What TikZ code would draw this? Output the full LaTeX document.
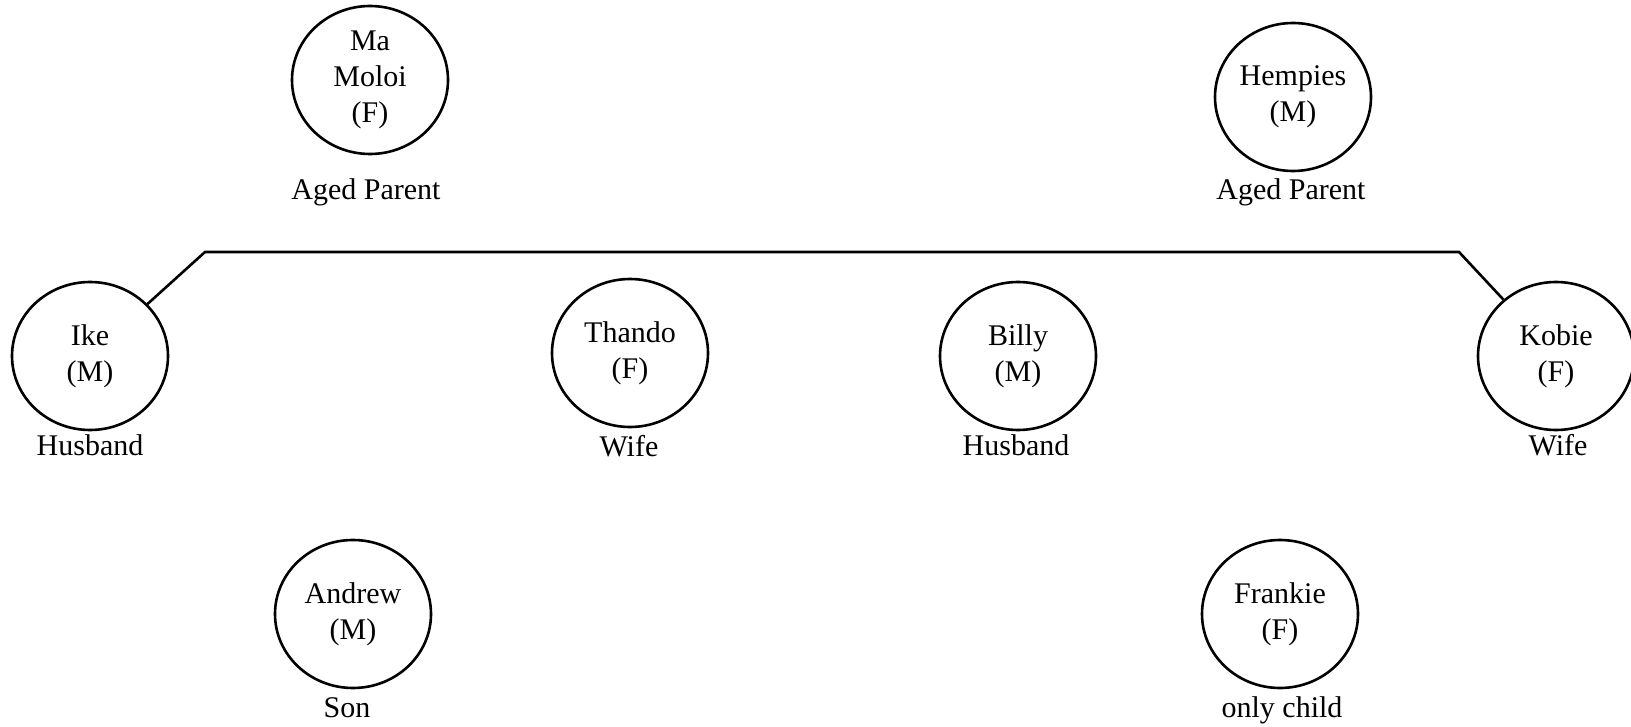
\documentclass[tikz,border=0pt]{standalone}
\usepackage{fontspec}
\setmainfont{Liberation Serif}
\usetikzlibrary{shapes.geometric}
\begin{document}
\begin{tikzpicture}[x=1pt,y=-1pt,
  person/.style={draw, line width=2.6pt, ellipse, minimum width=156pt, minimum height=148pt, inner sep=0pt, align=center, font=\fontsize{30}{36}\selectfont},
  role/.style={anchor=base, inner sep=0pt, font=\fontsize{30}{36}\selectfont},
  link/.style={line width=2.6pt}]
\useasboundingbox (0,0) rectangle (1631,727);
\node[person] (ma) at (370,80) {Ma\\Moloi\\(F)};
\node[person] (hem) at (1293,97) {Hempies\\(M)};
\node[person] (ike) at (90,356) {Ike\\(M)};
\node[person] (tha) at (630,353) {Thando\\(F)};
\node[person] (bil) at (1018,356) {Billy\\(M)};
\node[person] (kob) at (1556,356) {Kobie\\(F)};
\node[person] (and) at (353,614) {Andrew\\(M)};
\node[person] (fra) at (1280,614) {Frankie\\(F)};
\node[role] (maL) at (366,200) {Aged Parent};
\node[role] (hemL) at (1291,200) {Aged Parent};
\node[role] (ikeL) at (90,455) {Husband};
\node[role] (thaL) at (629,456) {Wife};
\node[role] (bilL) at (1016,455) {Husband};
\node[role] (kobL) at (1558,455) {Wife};
\node[role] (andL) at (347,717) {Son};
\node[role] (fraL) at (1282,717) {only child};
\coordinate (c1) at (205,252);
\coordinate (c2) at (1459,252);
\draw[link] (ike) -- (c1) -- (c2) -- (kob);
\end{tikzpicture}
\end{document}
